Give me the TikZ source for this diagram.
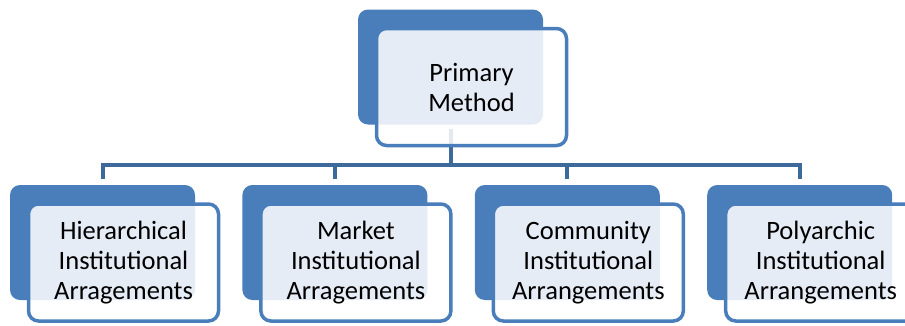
\documentclass[tikz,border=0pt]{standalone}
\usepackage{fontspec}
\setmainfont{Carlito}
\usetikzlibrary{positioning}
\definecolor{smblue}{RGB}{74,126,187}
\definecolor{smline}{RGB}{62,106,155}
\newcommand\smR{10pt}
\tikzstyle{backbox}=[
  rectangle,rounded corners=\smR,fill=smblue,
  minimum width=185pt,minimum height=115pt,inner sep=0pt]
\tikzstyle{frontbox}=[
  rectangle,rounded corners=\smR,draw=smblue,line width=3.5pt,
  fill=white,fill opacity=0.86,text opacity=1,
  minimum width=190pt,minimum height=117pt,inner sep=0pt,
  align=center,font=\fontsize{26.5}{30}\selectfont]
\tikzstyle{conn}=[draw=smline,line width=4pt]

\begin{document}
\begin{tikzpicture}[x=1pt,y=-1pt]
\useasboundingbox (0,0) rectangle (905,325);
\node[backbox] (top) at (450.5,67) {};
\node[backbox] (hier) at (102.5,242.5) {};
\node[backbox,right=47pt of hier] (mark) {};
\node[backbox,right=47pt of mark] (comm) {};
\node[backbox,right=47pt of comm] (poly) {};
\coordinate (bus) at (top.south |- 0,165);
% connectors
\draw[conn] ([yshift=-4pt]top.south) -- (bus);
\draw[conn] ([yshift=6pt]hier.north) |- (bus) -| ([yshift=6pt]poly.north);
\draw[conn] ([yshift=6pt]mark.north) -- (mark.north |- bus);
\draw[conn] ([yshift=6pt]comm.north) -- (comm.north |- bus);
\path
  (top) +(21,20) node[frontbox] (topF) {Primary\\Method}
  (hier) +(21,20) node[frontbox] (hierF) {Hierarchical\\Institutional\\Arragements}
  (mark) +(21,20) node[frontbox] (markF) {Market\\Institutional\\Arragements}
  (comm) +(21,20) node[frontbox] (commF) {Community\\Institutional\\Arrangements}
  (poly) +(21,20) node[frontbox] (polyF) {Polyarchic\\Institutional\\Arrangements};
\end{tikzpicture}
\end{document}
